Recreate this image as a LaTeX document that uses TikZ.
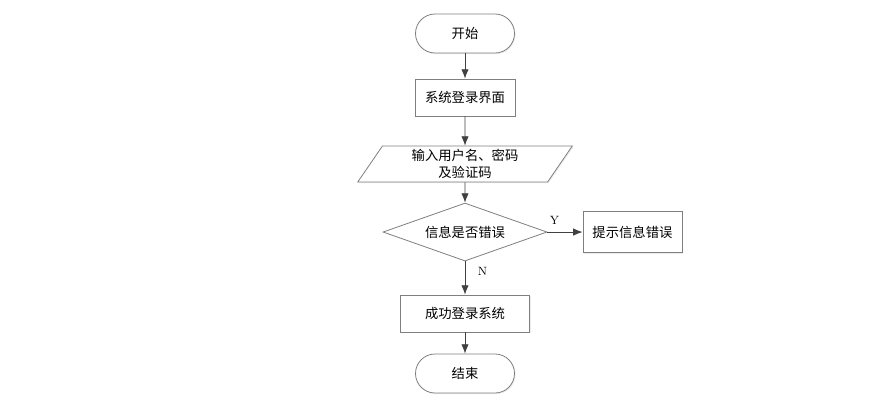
\documentclass[tikz,border=0pt]{standalone}
\usepackage{fontspec}
\newfontfamily\cjk{Noto Sans CJK SC}
\usetikzlibrary{positioning,shapes.geometric,shadows,arrows.meta}
\definecolor{bordergray}{HTML}{7F7F7F}
\definecolor{arrowgray}{HTML}{404040}

\begin{document}
\begin{tikzpicture}[-{Latex[length=7pt,width=5.5pt]} ,auto ,node distance =48pt and 125pt ,on grid ,
    semithick , arrowgray,
    terminal/.style ={rectangle ,rounded corners=14.6pt ,draw=bordergray ,fill=white ,
    text=black ,font=\cjk\fontsize{10}{12.75}\selectfont ,minimum width=74.25pt ,minimum height=29.25pt ,
    drop shadow={shadow xshift=0.8pt,shadow yshift=-0.8pt,fill=black!15}},
    process/.style ={rectangle ,draw=bordergray ,fill=white ,text=black ,
    font=\cjk\fontsize{10}{12.75}\selectfont ,minimum width=75pt ,minimum height=27.75pt ,
    drop shadow={shadow xshift=0.8pt,shadow yshift=-0.8pt,fill=black!15}},
    inout/.style ={trapezium ,trapezium left angle=63 ,trapezium right angle=117 ,
    trapezium stretches=true ,draw=bordergray ,fill=white ,text=black ,align=center ,inner sep=1pt ,
    font=\cjk\fontsize{10}{12.75}\selectfont ,minimum width=161pt ,minimum height=27pt ,
    drop shadow={shadow xshift=0.8pt,shadow yshift=-0.8pt,fill=black!15}},
    decision/.style ={diamond ,aspect=2.8 ,draw=bordergray ,fill=white ,text=black ,inner sep=0pt ,
    font=\cjk\fontsize{10}{12.75}\selectfont ,minimum width=123pt ,minimum height=43.5pt},
    branch/.style ={text=black ,font=\fontsize{9}{10}\selectfont}
    ]
    \useasboundingbox (0,0) rectangle (664.5pt,-300pt);
    \node[terminal] (start) at (348.75pt,-25.125pt) {开始};
    \node[process] (login) [below =48pt of start] {系统登录界面};
    \node[inout] (input) [below =49.9pt of login] {输入用户名、密码\\及验证码};
    \node[decision] (check) [below =51pt of input] {信息是否错误};
    \node[process ,minimum height=30.75pt ,minimum width=74.25pt] (tip) [right =125.6pt of check] {提示信息错误};
    \node[process ,minimum width=96.75pt] (ok) [below =61.1pt of check] {成功登录系统};
    \node[terminal] (finish) [below =45pt of ok] {结束};
    \draw (start) -- (login);
    \draw (login) -- (input);
    \draw (input) -- (check);
    \draw (check) -- node[branch ,pos=0.2 ,above ,yshift=2pt] {Y} (tip);
    \draw (check) -- node[branch ,pos=0.3 ,right ,xshift=6pt] {N} (ok);
    \draw (ok) -- (finish);
\end{tikzpicture}
\end{document}
